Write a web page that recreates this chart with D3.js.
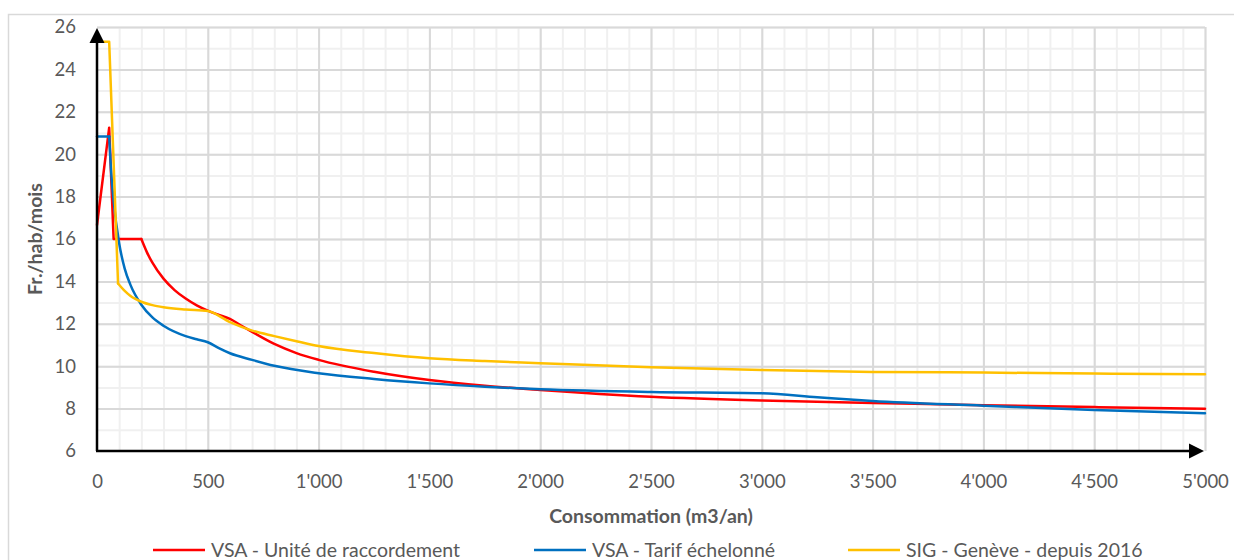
<!DOCTYPE html>
<html>
<head>
<meta charset="utf-8">
<script src="https://cdn.jsdelivr.net/npm/d3@7"></script>
<style>
  body { margin: 0; background: #fff; }
  text { font-family: Lato, "Open Sans", sans-serif; }
</style>
</head>
<body>
<div id="chart"></div>
<script>
// values
var seriesNames = ["VSA - Unité de raccordement", "VSA - Tarif échelonné", "SIG - Genève - depuis 2016"];

var raccordX = [0, 55, 75, 200, 225, 250, 300, 350, 400, 450, 500, 550, 600, 650, 700, 800, 900, 1000, 1250, 1500, 1750, 2000, 2500, 3000, 3500, 4000, 4500, 5000];
var raccordY = [16.66, 21.25, 16.0, 16.0, 15.38, 14.88, 14.13, 13.59, 13.19, 12.87, 12.62, 12.42, 12.23, 11.92, 11.62, 11.05, 10.62, 10.3, 9.74, 9.35, 9.08, 8.88, 8.56, 8.38, 8.27, 8.16, 8.07, 7.99];

var echelonX = [0, 55, 65, 75, 100, 125, 150, 200, 250, 300, 400, 450, 500, 550, 600, 700, 800, 1000, 1250, 1500, 1750, 2000, 2500, 3000, 3250, 3500, 4000, 4500, 5000];
var echelonY = [20.83, 20.83, 19.0, 17.8, 15.8, 14.6, 13.86, 12.9, 12.3, 11.91, 11.42, 11.27, 11.13, 10.85, 10.61, 10.3, 10.02, 9.67, 9.4, 9.19, 9.03, 8.91, 8.78, 8.72, 8.54, 8.36, 8.14, 7.93, 7.78];

var genevaX = [0, 55, 95, 125, 150, 200, 250, 300, 400, 500, 600, 700, 800, 900, 1000, 1250, 1500, 1750, 2000, 2500, 3000, 3500, 4000, 4500, 5000];
var genevaY = [25.3, 25.3, 13.9, 13.55, 13.32, 13.04, 12.88, 12.78, 12.67, 12.6, 12.08, 11.68, 11.42, 11.18, 10.95, 10.62, 10.37, 10.24, 10.14, 9.95, 9.82, 9.73, 9.7, 9.65, 9.62];

// index where each tariff stops being straight steps and starts its smooth decay
var smoothFrom = [3, 1, 2];

var xTicks = [0, 500, 1000, 1500, 2000, 2500, 3000, 3500, 4000, 4500, 5000];
var yTicks = [6, 8, 10, 12, 14, 16, 18, 20, 22, 24, 26];

var colors = ["#ff0000", "#0070c0", "#ffc000"];

var margin = {top: 27, right: 29, bottom: 109, left: 97},
    width = 1234 - margin.left - margin.right,
    height = 560 - margin.top - margin.bottom;

var root = d3.select("#chart")
  .append("svg")
    .attr("width", 1234)
    .attr("height", 560);

// outer chart frame
root.append("rect")
    .attr("x", 8.5)
    .attr("y", 14.5)
    .attr("width", 1240)
    .attr("height", 560)
    .attr("fill", "none")
    .attr("stroke", "#d9d9d9")
    .attr("stroke-width", 1.5);

var svg = root.append("g")
    .attr("transform", "translate(" + margin.left + "," + margin.top + ")");

var x = d3.scaleLinear().domain([0, 5000]).range([0, width]);
var y = d3.scaleLinear().domain([6, 26]).range([height, 0]);

// minor grid
svg.append("g")
    .attr("class", "grid-minor")
    .attr("transform", "translate(0," + height + ")")
    .call(d3.axisBottom(x).tickValues(d3.range(100, 5001, 100)).tickSize(-height).tickFormat(""));
svg.append("g")
    .attr("class", "grid-minor")
    .call(d3.axisLeft(y).tickValues(d3.range(7, 27, 1)).tickSize(-width).tickFormat(""));
svg.selectAll(".grid-minor line").attr("stroke", "#f0f0f0").attr("stroke-width", 2);

// major grid
svg.append("g")
    .attr("class", "grid-major")
    .attr("transform", "translate(0," + height + ")")
    .call(d3.axisBottom(x).tickValues(xTicks.slice(1)).tickSize(-height).tickFormat(""));
svg.append("g")
    .attr("class", "grid-major")
    .call(d3.axisLeft(y).tickValues(yTicks.slice(1)).tickSize(-width).tickFormat(""));
svg.selectAll(".grid-major line").attr("stroke", "#d9d9d9").attr("stroke-width", 2);
svg.selectAll(".grid-minor .domain, .grid-major .domain").remove();

// tick labels
var fmt = function(d) { return d3.format(",")(d).replace(/,/g, "'"); };

var xAxis = svg.append("g")
    .attr("transform", "translate(0," + height + ")")
    .call(d3.axisBottom(x).tickValues(xTicks).tickSize(0).tickPadding(24).tickFormat(fmt));
var yAxis = svg.append("g")
    .call(d3.axisLeft(y).tickValues(yTicks).tickSize(0).tickPadding(21));
xAxis.select(".domain").remove();
yAxis.select(".domain").remove();
root.selectAll(".tick text")
    .attr("fill", "#595959")
    .style("font-family", "Lato, sans-serif")
    .style("font-size", "18.5px");

// series: straight steps first, then smooth decay
var stepLine = d3.line()
    .x(function(d) { return x(d[0]); })
    .y(function(d) { return y(d[1]); });
var smoothLine = d3.line()
    .curve(d3.curveMonotoneX)
    .x(function(d) { return x(d[0]); })
    .y(function(d) { return y(d[1]); });

var series = [
  d3.zip(raccordX, raccordY),
  d3.zip(echelonX, echelonY),
  d3.zip(genevaX, genevaY)
];

var seriesG = svg.selectAll(".series")
  .data(series)
  .enter()
  .append("g")
    .attr("class", "series")
    .attr("fill", "none")
    .attr("stroke", function(d, i) { return colors[i]; })
    .attr("stroke-width", 2.5)
    .attr("stroke-linejoin", "round")
    .attr("stroke-linecap", "round");

seriesG.append("path")
    .attr("d", function(d, i) { return stepLine(d.slice(0, smoothFrom[i] + 1)); });
seriesG.append("path")
    .attr("d", function(d, i) { return smoothLine(d.slice(smoothFrom[i])); });

// axes with arrows
svg.append("line")
    .attr("x1", 0).attr("y1", height)
    .attr("x2", 0).attr("y2", 12)
    .attr("stroke", "black").attr("stroke-width", 2.5);
svg.append("line")
    .attr("x1", -1).attr("y1", height)
    .attr("x2", width - 12).attr("y2", height)
    .attr("stroke", "black").attr("stroke-width", 2.5);
svg.append("path")
    .attr("d", "M0," + (y(26) + 1) + "L-7.5," + (y(26) + 16) + "L7.5," + (y(26) + 16) + "Z")
    .attr("fill", "black");
svg.append("path")
    .attr("d", "M" + (x(5000) - 1) + "," + height + "L" + (x(5000) - 16) + "," + (height - 7.5) + "L" + (x(5000) - 16) + "," + (height + 7.5) + "Z")
    .attr("fill", "black");

// axis titles
svg.append("text")
    .attr("text-anchor", "middle")
    .attr("x", width / 2)
    .attr("y", height + 72)
    .attr("fill", "#595959")
    .style("font-size", "19.5px")
    .style("font-weight", "bold")
    .text("Consommation (m3/an)");

svg.append("text")
    .attr("text-anchor", "middle")
    .attr("transform", "rotate(-90)")
    .attr("x", -height / 2)
    .attr("y", -55)
    .attr("fill", "#595959")
    .style("font-size", "19.5px")
    .style("font-weight", "bold")
    .text("Fr./hab/mois");

// legend
var legendX = [153, 534, 848];
var legend = root.selectAll(".legend")
  .data(seriesNames)
  .enter()
  .append("g")
    .attr("class", "legend")
    .attr("transform", function(d, i) { return "translate(" + legendX[i] + ",550)"; });

legend.append("line")
    .attr("x1", 0).attr("x2", 52)
    .attr("stroke", function(d, i) { return colors[i]; })
    .attr("stroke-width", 2.5);

legend.append("text")
    .attr("x", 58)
    .attr("dy", "0.35em")
    .attr("fill", "#595959")
    .style("font-size", "19.5px")
    .text(function(d) { return d; });
</script>
</body>
</html>
